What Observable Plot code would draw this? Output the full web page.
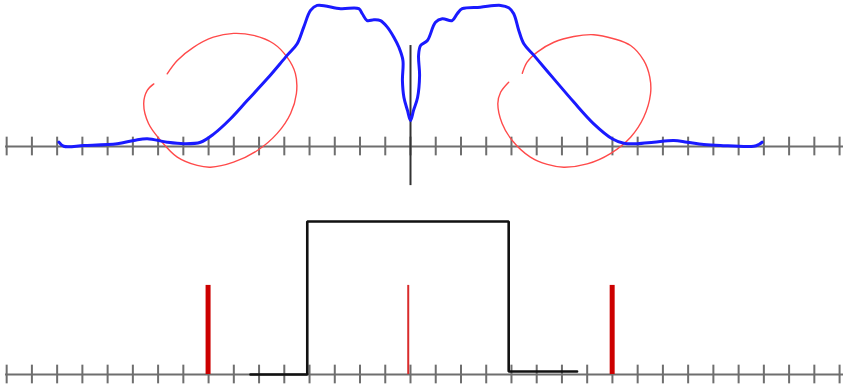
<!DOCTYPE html>
<html>
<head>
<meta charset="utf-8">
<script src="https://cdn.jsdelivr.net/npm/d3@7"></script>
<script src="https://cdn.jsdelivr.net/npm/@observablehq/plot@0.6"></script>
<style>
  html, body { margin: 0; padding: 0; background: #fff; }
  #chart svg { display: block; }
</style>
</head>
<body>
<div id="chart"></div>
<script>
// ---- data (x in tick units, y in tick units; 0 = axis) ----
const tickPositions = [-16,-15,-14,-13,-12,-11,-10,-9,-8,-7,-6,-5,-4,-3,-2,-1,0,1,2,3,4,5,6,7,8,9,10,11,12,13,14,15,16,17];

// top panel: blue spectrum-like curve
const blueX = [-13.93,-13.74,-12.94,-11.62,-10.96,-10.43,-9.64,-8.98,-8.32,-7.79,-7.13,-6.47,-5.68,-4.89,-4.49,-4.23,-3.96,-3.70,-2.77,-2.05,-1.91,-1.72,-1.45,-1.19,-0.92,-0.66,-0.46,-0.30,-0.32,-0.26,-0.12,0,
               0.12,0.28,0.36,0.32,0.40,0.67,0.99,1.26,1.65,1.85,2.05,2.77,3.57,3.89,4.09,4.29,4.49,4.89,5.68,6.47,7.26,7.99,8.45,8.98,9.64,10.43,10.96,11.62,12.28,13.60,13.80,13.93];
const blueY = [0.17,0.01,0.04,0.11,0.24,0.31,0.17,0.11,0.17,0.50,1.10,1.82,2.68,3.61,4.07,4.73,5.39,5.59,5.46,5.46,5.26,4.99,5.02,4.99,4.73,4.33,3.93,3.41,2.61,1.94,1.43,1.03,
               1.43,1.94,2.81,3.61,4.00,4.20,4.92,5.06,4.99,5.26,5.46,5.52,5.59,5.50,5.26,4.60,4.07,3.61,2.68,1.76,0.90,0.31,0.13,0.11,0.17,0.24,0.17,0.08,0.04,0.01,0.08,0.17];

// top panel: red loops
const loopLeftX = [-10.17,-10.43,-10.57,-10.38,-9.90,-9.24,-8.45,-7.92,-7.01,-6.07,-5.28,-4.75,-4.52,-4.56,-4.89,-5.43,-6.22,-7.01,-7.81,-8.60,-9.24,-9.64];
const loopLeftY = [2.48,2.22,1.70,0.91,0.24,-0.42,-0.75,-0.82,-0.62,-0.16,0.52,1.31,2.10,2.89,3.54,4.08,4.40,4.48,4.33,3.93,3.41,2.88];
const loopRightX = [3.89,3.57,3.46,3.63,4.03,4.75,5.42,6.07,7.00,7.92,8.72,9.24,9.51,9.48,9.24,8.72,8.05,7.26,6.47,5.68,5.02,4.62,4.43];
const loopRightY = [2.55,2.15,1.70,0.91,0.24,-0.42,-0.71,-0.82,-0.69,-0.28,0.37,1.16,2.09,2.75,3.41,4.00,4.27,4.43,4.36,4.13,3.74,3.34,2.90];

// top panel: vertical axis extent
const vAxisY = [-1.55, 4.00];

// bottom panel: rectangular pulse
const stepX = [-6.34,-4.09,-4.09,3.89,3.89,6.60];
const stepY = [0,0,6.06,6.06,0.12,0.12];

// bottom panel: red spikes
const spikeX = [-8.02,-0.09,7.99];
const spikeH = [3.53,3.53,3.53];

// ---- layout ----
const W = 843, unit = 25.24, cx = 410;
const xDomain = [-cx / unit, (W - cx) / unit];

const toPts = (xs, ys) => xs.map((x, i) => ({x, y: ys[i]}));
const blue = toPts(blueX, blueY);
const loopL = toPts(loopLeftX, loopLeftY);
const loopR = toPts(loopRightX, loopRightY);
const step = toPts(stepX, stepY);
const spikes = spikeX.map((x, i) => ({x, h: spikeH[i], i}));

function axisMarks() {
  return [
    Plot.ruleY([0], {x1: xDomain[0] + 0.2, x2: xDomain[1], stroke: "#6e6e6e", strokeWidth: 2}),
    Plot.ruleX(tickPositions, {x: d => d, y1: -0.37, y2: 0.37, stroke: "#6e6e6e", strokeWidth: 2})
  ];
}

const topPlot = Plot.plot({
  width: W, height: 190, margin: 0,
  x: {domain: xDomain, axis: null},
  y: {domain: [-44 / unit, 146 / unit], axis: null},
  marks: [
    ...axisMarks(),
    Plot.ruleX([0], {y1: vAxisY[0], y2: vAxisY[1], stroke: "#333", strokeWidth: 2}),
    Plot.line(loopL, {x: "x", y: "y", curve: "catmull-rom", stroke: "#ff4a4a", strokeWidth: 1.4}),
    Plot.line(loopR, {x: "x", y: "y", curve: "catmull-rom", stroke: "#ff4a4a", strokeWidth: 1.4}),
    Plot.line(blue, {x: "x", y: "y", curve: "catmull-rom", stroke: "#1a1aff", strokeWidth: 3, strokeLinejoin: "round", strokeLinecap: "round"})
  ]
});

const bottomPlot = Plot.plot({
  width: W, height: 196, margin: 0,
  x: {domain: xDomain, axis: null},
  y: {domain: [-12 / unit, 184 / unit], axis: null},
  marks: [
    ...axisMarks(),
    Plot.line(step, {x: "x", y: "y", stroke: "#111", strokeWidth: 2.6, strokeLinejoin: "miter"}),
    Plot.ruleX(spikes, {x: "x", y1: 0, y2: "h", stroke: d => d.i === 1 ? "#d92b2b" : "#cc0000",
                         strokeWidth: d => d.i === 1 ? 2 : 5})
  ]
});

const el = document.getElementById("chart");
el.appendChild(topPlot);
el.appendChild(bottomPlot);
</script>
</body>
</html>
